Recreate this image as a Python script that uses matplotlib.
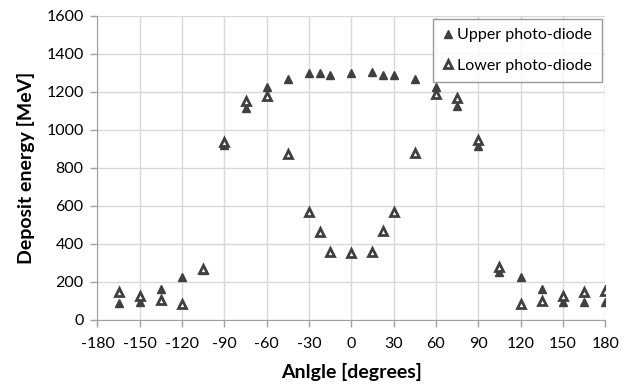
import matplotlib
matplotlib.use("Agg")
import matplotlib.pyplot as plt

plt.rcParams['font.family'] = ['Lato', 'DejaVu Sans']
plt.rcParams['axes.unicode_minus'] = False

angles = [-165, -150, -135, -120, -105, -90, -75, -60, -45, -30, -22.5, -15, 0,
          15, 22.5, 30, 45, 60, 75, 90, 105, 120, 135, 150, 165, 180]
upper = [91, 95, 165, 228, 260, 919, 1114, 1225, 1268, 1301, 1300, 1288, 1300,
         1305, 1288, 1290, 1267, 1225, 1126, 916, 253, 228, 161, 95, 95, 95]
lower = [146, 126, 105, 83, 270, 937, 1149, 1180, 872, 567, 462, 356, 353,
         358, 470, 568, 877, 1186, 1165, 947, 277, 84, 98, 128, 146, 153]

xticks = list(range(-180, 181, 30))
yticks = list(range(0, 1601, 200))

fig = plt.figure(figsize=(6.37, 3.92), dpi=100)
ax = fig.add_axes([0.153, 0.184, 0.797, 0.776])

ax.plot(angles, upper, linestyle='none', marker='^', markersize=6.3,
        color='#404040', label='Upper photo-diode', zorder=3)
ax.plot(angles, lower, linestyle='none', marker='^', markersize=6.3,
        markerfacecolor='white', markeredgecolor='#404040', markeredgewidth=2,
        label='Lower photo-diode', zorder=4)

ax.set_xlim(-180, 180)
ax.set_ylim(0, 1600)
ax.set_xticks(xticks)
ax.set_yticks(yticks)
ax.grid(True, color='#d9d9d9', linewidth=1)
ax.set_axisbelow(True)
ax.tick_params(axis='both', labelsize=11.5, colors='#a0a0a0', labelcolor='black',
               direction='out', length=5, width=1)
ax.tick_params(axis='x', pad=7)
ax.tick_params(axis='y', pad=5)
for s in ['top', 'right']:
    ax.spines[s].set_visible(False)
for s in ['left', 'bottom']:
    ax.spines[s].set_color('#a0a0a0')

ax.set_xlabel('Anlgle [degrees]', fontsize=14, fontweight='bold', labelpad=9)
ax.set_ylabel('Deposit energy [MeV]', fontsize=14, fontweight='bold', labelpad=8)

leg = ax.legend(loc='upper right', bbox_to_anchor=(0.993, 0.99), fontsize=11.5,
                frameon=True, fancybox=False, edgecolor='#808080',
                handlelength=0.6, handletextpad=0.3, labelspacing=1.0,
                borderpad=0.6, borderaxespad=0)
leg.get_frame().set_linewidth(1)

plt.savefig("out.png", dpi=100)
